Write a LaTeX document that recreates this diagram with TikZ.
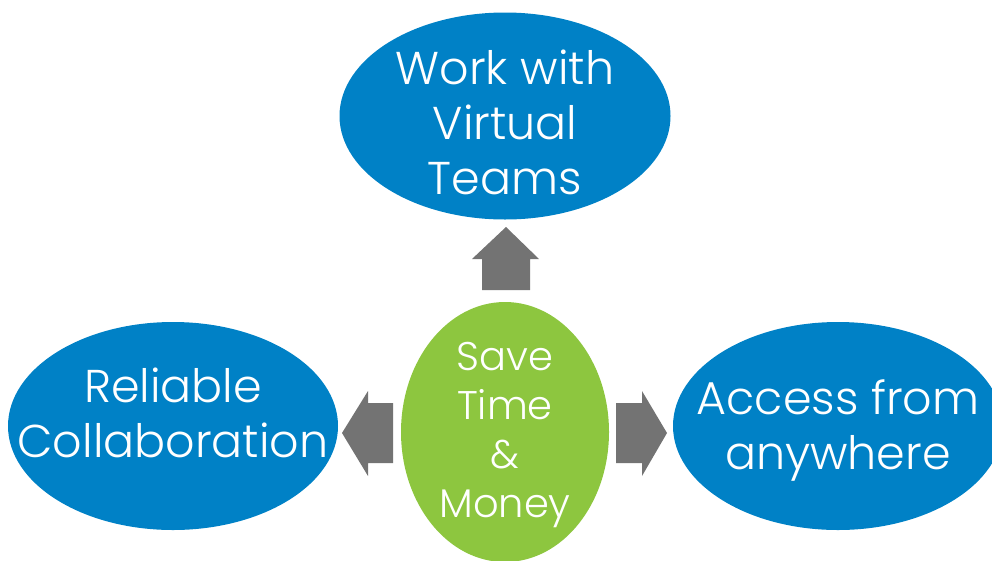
\documentclass[tikz,border=0pt]{standalone}
\usepackage{fontspec}
\IfFontExistsTF{Poppins Light}{\setmainfont{Poppins Light}}{\setmainfont{Poppins}}
\usetikzlibrary{shapes.geometric}
\definecolor{blueE}{HTML}{0081C6}
\definecolor{greenE}{HTML}{8DC63F}
\definecolor{grayA}{HTML}{737373}
\tikzset{
  blob/.style={ellipse, inner sep=0pt, draw=none},
  bluetxt/.style={text=white, align=center, font=\fontsize{46}{55}\selectfont, inner sep=0pt},
  greentxt/.style={text=white, align=center, font=\fontsize{40}{49}\selectfont, inner sep=0pt},
  blockarrow/.style={fill=grayA, draw=none}
}
\begin{document}
\begin{tikzpicture}[x=1pt,y=-1pt]
\useasboundingbox (0,0) rectangle (992,560);
% ellipses
\node[blob, fill=blueE, minimum width=331, minimum height=207] (topE) at (505,116) {};
\node[blob, fill=blueE, minimum width=330, minimum height=208] (leftE) at (173,426) {};
\node[blob, fill=blueE, minimum width=330, minimum height=208] (rightE) at (838,426) {};
\node[blob, fill=greenE, minimum width=208, minimum height=260] (midE) at (505,432) {};
% texts
\node[bluetxt] (topT) at (505,122) {Work with\\Virtual\\Teams};
\node[bluetxt] (leftT) at (173,413) {Reliable\\Collaboration};
\node[bluetxt] (rightT) at (838,430) {Access from\\anywhere};
\node[greentxt] (midT) at (505,435) {Save\\Time\\\&\\Money};
% block arrows
\fill[blockarrow] (482,290) -- (482,259) -- (472,259) -- (506,227) -- (539,259) -- (530,259) -- (530,290) -- cycle;
\fill[blockarrow] (393,403) -- (368,403) -- (368,391) -- (342,433) -- (368,476) -- (368,463) -- (393,463) -- cycle;
\fill[blockarrow] (616,403) -- (642,403) -- (642,391) -- (667,433) -- (642,476) -- (642,463) -- (616,463) -- cycle;
\end{tikzpicture}
\end{document}
